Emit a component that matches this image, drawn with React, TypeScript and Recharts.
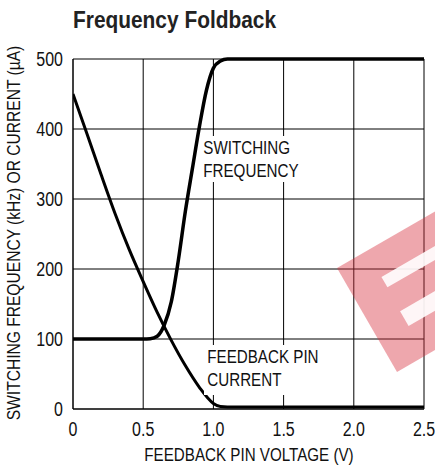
import React from "react";
import { LineChart, Line, XAxis, YAxis, CartesianGrid } from "recharts";

// values
const freqVolts = [0, 0.5, 0.55, 0.6, 0.65, 0.7, 0.75, 0.8, 0.85, 0.9, 0.95, 1.0, 1.05, 1.1, 1.2, 2.5];
const freqKHz = [100, 100, 100.5, 104, 120, 153, 212, 282, 343, 403, 455, 487, 497, 500, 500, 500];

const currVolts = [0, 0.1, 0.2, 0.3, 0.4, 0.5, 0.6, 0.7, 0.8, 0.9, 1.0, 1.05, 1.1, 1.5, 2.5];
const currUA = [450, 393, 335, 279, 228, 182, 138, 98, 62, 31, 8, 3.5, 3, 3, 3];

const xTicks = [0, 0.5, 1.0, 1.5, 2.0, 2.5];
const yTicks = [0, 100, 200, 300, 400, 500];

const freqData = freqVolts.map((v, i) => ({ v, y: freqKHz[i] }));
const currData = currVolts.map((v, i) => ({ v, y: currUA[i] }));

const font = "'Liberation Sans', Arial, sans-serif";
const squeeze = 0.82; // narrow the regular face to a condensed look

function XTick(props: any) {
  const { x, y, payload } = props;
  const t = payload.value as number;
  return (
    <text
      transform={`translate(${x},${y}) scale(${squeeze},1)`}
      textAnchor="middle"
      dy="0.71em"
      fill="#111"
      fontSize={19.5}
      fontFamily={font}
    >
      {t === 0 ? "0" : t.toFixed(1)}
    </text>
  );
}

function YTick(props: any) {
  const { x, y, payload } = props;
  return (
    <text
      transform={`translate(${x},${y}) scale(${squeeze},1)`}
      textAnchor="end"
      dy="0.355em"
      fill="#111"
      fontSize={19.5}
      fontFamily={font}
    >
      {payload.value}
    </text>
  );
}

const note: React.CSSProperties = {
  position: "absolute",
  background: "#fff",
  fontSize: 18.5,
  lineHeight: "23px",
  whiteSpace: "nowrap",
  transform: `scaleX(${squeeze})`,
  transformOrigin: "left top",
};

export default function App() {
  return (
    <div
      style={{
        position: "absolute",
        left: 0,
        top: 0,
        width: 435,
        height: 468,
        overflow: "hidden",
        background: "#fff",
        fontFamily: font,
        color: "#111",
      }}
    >
      <div
        style={{
          position: "absolute",
          left: 73,
          top: 8,
          fontSize: 24,
          lineHeight: "24px",
          fontWeight: 700,
          color: "#222",
          whiteSpace: "nowrap",
          transform: "scaleX(0.87)",
          transformOrigin: "left top",
        }}
      >
        Frequency Foldback
      </div>

      <div style={{ position: "absolute", left: 0, top: 0 }}>
        <LineChart
          width={435}
          height={468}
          margin={{ top: 59, right: 11, bottom: 29, left: 0 }}
        >
          <CartesianGrid stroke="#000" strokeWidth={1} />
          <XAxis
            type="number"
            dataKey="v"
            domain={[0, 2.5]}
            ticks={xTicks}
            height={30}
            tickSize={0}
            tickMargin={13}
            axisLine={{ stroke: "#000" }}
            tick={<XTick />}
            allowDataOverflow
          />
          <YAxis
            type="number"
            domain={[0, 500]}
            ticks={yTicks}
            width={73}
            tickSize={0}
            tickMargin={10}
            axisLine={{ stroke: "#000" }}
            tick={<YTick />}
          />
          <Line
            data={freqData}
            dataKey="y"
            type="monotone"
            stroke="#000"
            strokeWidth={3.5}
            dot={false}
            isAnimationActive={false}
          />
          <Line
            data={currData}
            dataKey="y"
            type="monotone"
            stroke="#000"
            strokeWidth={3}
            dot={false}
            isAnimationActive={false}
          />
        </LineChart>
      </div>

      {/* axis titles */}
      <div
        style={{
          position: "absolute",
          left: 248.5,
          top: 446,
          fontSize: 18.5,
          lineHeight: "18.5px",
          whiteSpace: "nowrap",
          transform: `translateX(-50%) scaleX(${squeeze})`,
        }}
      >
        FEEDBACK PIN VOLTAGE (V)
      </div>
      <div
        style={{
          position: "absolute",
          left: 13,
          top: 233,
          fontSize: 19,
          lineHeight: "19px",
          whiteSpace: "nowrap",
          transform: `translate(-50%, -50%) rotate(-90deg) scaleX(${squeeze})`,
        }}
      >
        SWITCHING FREQUENCY (kHz) OR CURRENT (µA)
      </div>

      {/* curve notes */}
      <div style={{ ...note, left: 200, top: 136, padding: "0 4px" }}>
        SWITCHING
        <br />
        FREQUENCY
      </div>
      <div style={{ ...note, left: 204, top: 345, padding: "0 4px 4px 4px" }}>
        FEEDBACK PIN
        <br />
        CURRENT
      </div>

      {/* watermark stamp */}
      <div
        style={{
          position: "absolute",
          left: 337,
          top: 268,
          width: 135,
          height: 120,
          transformOrigin: "0 0",
          transform: "rotate(-30deg)",
          background: "rgba(215, 45, 60, 0.42)",
        }}
      >
        <div
          style={{
            position: "absolute",
            left: 34,
            top: 30,
            width: 110,
            height: 12,
            background: "rgba(255,255,255,0.9)",
          }}
        />
        <div
          style={{
            position: "absolute",
            left: 33,
            top: 69,
            width: 110,
            height: 17,
            background: "rgba(255,255,255,0.9)",
          }}
        />
      </div>
    </div>
  );
}
